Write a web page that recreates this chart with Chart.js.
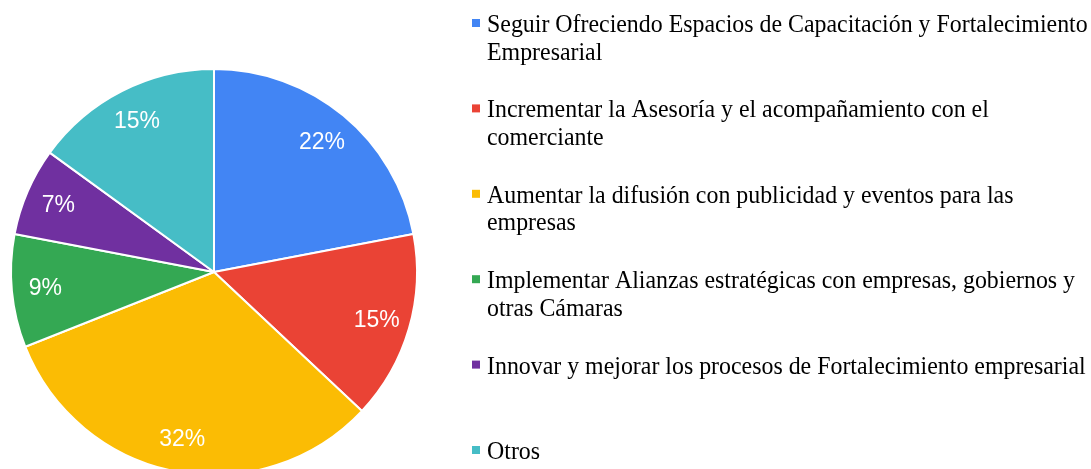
<!DOCTYPE html>
<html>
<head>
<meta charset="utf-8">
<script src="https://cdn.jsdelivr.net/npm/chart.js@4/dist/chart.umd.min.js"></script>
<style>
  html, body { margin: 0; padding: 0; background: #ffffff; overflow: hidden; }
  #wrap { width: 1091px; height: 469px; }
</style>
</head>
<body>
<div id="wrap"><canvas id="c" width="1091" height="469"></canvas></div>
<script>
// Categories (each entry is the legend text, already split into its lines)
const categories = [
  ["Seguir Ofreciendo Espacios de Capacitación y Fortalecimiento", "Empresarial"],
  ["Incrementar la Asesoría y el acompañamiento con el", "comerciante"],
  ["Aumentar la difusión con publicidad y eventos para las", "empresas"],
  ["Implementar Alianzas estratégicas con empresas, gobiernos y", "otras Cámaras"],
  ["Innovar y mejorar los procesos de Fortalecimiento empresarial"],
  ["Otros"]
];
// Share of answers, in percent
const shares = [22, 15, 32, 9, 7, 15];
const sliceColors = ["#4285F4", "#EA4335", "#FBBC04", "#34A853", "#7030A0", "#46BDC6"];

// Percentage labels drawn inside each slice
const sliceLabels = {
  id: 'sliceLabels',
  afterDatasetsDraw(chart) {
    const ctx = chart.ctx;
    const meta = chart.getDatasetMeta(0);
    const values = chart.data.datasets[0].data;
    ctx.save();
    ctx.fillStyle = '#ffffff';
    ctx.font = '23px "Liberation Sans", Arial, sans-serif';
    ctx.textAlign = 'center';
    ctx.textBaseline = 'middle';
    meta.data.forEach((arc, i) => {
      const p = arc.getProps(['x', 'y', 'startAngle', 'endAngle', 'outerRadius'], true);
      const mid = (p.startAngle + p.endAngle) / 2;
      const r = p.outerRadius * 0.835;
      ctx.fillText(values[i] + '%', p.x + Math.cos(mid) * r, p.y + Math.sin(mid) * r + 1);
    });
    ctx.restore();
  }
};

// Legend on the right: square marker plus wrapped text per category
const sideLegend = {
  id: 'sideLegend',
  afterDraw(chart) {
    const ctx = chart.ctx;
    const labels = chart.data.labels;
    const colors = chart.data.datasets[0].backgroundColor;
    const markerX = 472, textX = 487, firstBaseline = 32, step = 85.4, lineGap = 27.5, box = 8;
    const squeeze = 0.955;
    ctx.save();
    ctx.font = '25px "Liberation Serif", "Times New Roman", serif';
    ctx.textAlign = 'left';
    ctx.textBaseline = 'alphabetic';
    labels.forEach((lines, i) => {
      const base = firstBaseline + i * step;
      ctx.fillStyle = colors[i];
      ctx.fillRect(markerX, base - 9 - box / 2, box, box);
      ctx.fillStyle = '#000000';
      lines.forEach((line, j) => {
        ctx.save();
        ctx.translate(textX, base + j * lineGap);
        ctx.scale(squeeze, 1);
        ctx.fillText(line, 0, 0);
        ctx.restore();
      });
    });
    ctx.restore();
  }
};

new Chart(document.getElementById('c'), {
  type: 'pie',
  data: {
    labels: categories,
    datasets: [{
      data: shares,
      backgroundColor: sliceColors,
      borderColor: '#ffffff',
      borderWidth: 2,
      clip: false
    }]
  },
  options: {
    responsive: false,
    animation: false,
    devicePixelRatio: 1,
    radius: 203,
    layout: { padding: { left: 0, right: 663, top: 75, bottom: 0 } },
    plugins: {
      legend: { display: false },
      tooltip: { enabled: false }
    }
  },
  plugins: [sliceLabels, sideLegend]
});
</script>
</body>
</html>
